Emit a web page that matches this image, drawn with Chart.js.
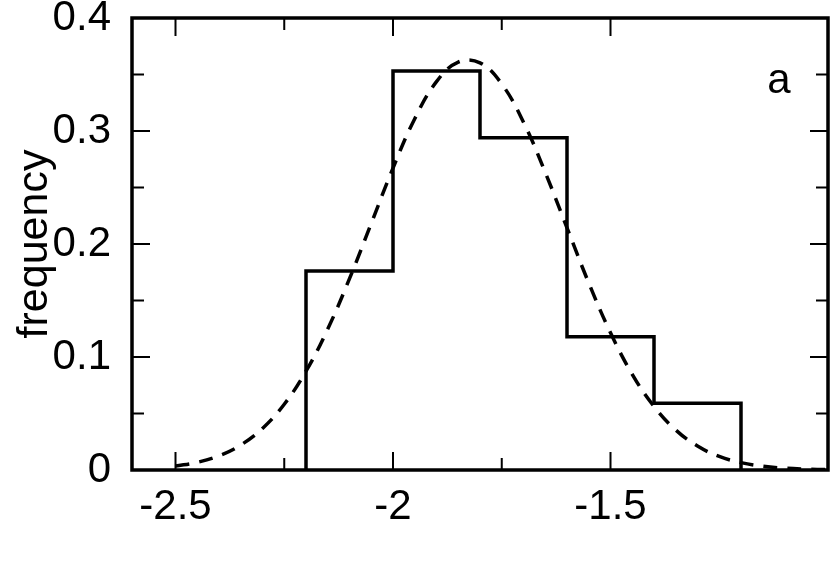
<!DOCTYPE html>
<html>
<head>
<meta charset="utf-8">
<script src="https://cdn.jsdelivr.net/npm/chart.js@4.4.1/dist/chart.umd.min.js"></script>
<style>
    body { margin: 0; background: #fff; }
    #wrap { width: 830px; height: 586px; }
</style>
</head>
<body>
<div id="wrap"><canvas id="hist-chart"></canvas></div>
<script>
// Histogram bins (left edges + last right edge) and frequencies
const binEdges = [-2.2, -2.0, -1.8, -1.6, -1.4, -1.2];
const binFreq = [0.176, 0.353, 0.294, 0.118, 0.059];

// Dashed fit curve
const curveX = [-2.5, -2.45, -2.4, -2.35, -2.3, -2.25, -2.2, -2.15, -2.1, -2.05,
    -2.0, -1.95, -1.9, -1.85, -1.8, -1.75, -1.7, -1.65, -1.6, -1.55,
    -1.5, -1.45, -1.4, -1.35, -1.3, -1.25, -1.2, -1.15, -1.1, -1.05, -1.0];
const curveY = [0.0035, 0.0068, 0.0126, 0.0221, 0.0368, 0.0582, 0.0874, 0.1248, 0.1693, 0.2182,
    0.2672, 0.3109, 0.3437, 0.3610, 0.3603, 0.3416, 0.3078, 0.2634, 0.2143, 0.1655,
    0.1215, 0.0847, 0.0562, 0.0354, 0.0212, 0.0120, 0.0065, 0.0033, 0.0016, 0.0008, 0.0003];

// Axis ticks
const xTicks = [-2.5, -2.25, -2.0, -1.75, -1.5];
const xTickLabels = ['-2.5', '', '-2', '', '-1.5'];
const yTicks = [0, 0.05, 0.1, 0.15, 0.2, 0.25, 0.3, 0.35, 0.4];
const yTickLabels = ['0', '', '0.1', '', '0.2', '', '0.3', '', '0.4'];

const FONT = '"Liberation Sans", Arial, Helvetica, sans-serif';

function histPoints() {
    const pts = [{ x: binEdges[0], y: 0 }];
    binFreq.forEach((f, i) => pts.push({ x: binEdges[i], y: f }));
    pts.push({ x: binEdges[binEdges.length - 1], y: 0 });
    return pts;
}

// Frame, inward ticks on all four sides, panel letter
const framePlugin = {
    id: 'frame',
    afterDraw(chart) {
        const ctx = chart.ctx;
        const area = chart.chartArea;
        const xs = chart.scales.x;
        const ys = chart.scales.y;
        ctx.save();
        ctx.strokeStyle = '#000';
        ctx.lineWidth = 2;
        ctx.beginPath();
        xTicks.forEach((v, i) => {
            const px = xs.getPixelForValue(v);
            const len = xTickLabels[i] ? 18 : 12;
            ctx.moveTo(px, area.bottom); ctx.lineTo(px, area.bottom - len);
            ctx.moveTo(px, area.top); ctx.lineTo(px, area.top + len);
        });
        yTicks.forEach((v, i) => {
            const py = ys.getPixelForValue(v);
            const len = yTickLabels[i] ? 18 : 12;
            ctx.moveTo(area.left, py); ctx.lineTo(area.left + len, py);
            ctx.moveTo(area.right, py); ctx.lineTo(area.right - len, py);
        });
        ctx.stroke();

        ctx.lineWidth = 3.5;
        ctx.strokeRect(area.left, area.top, area.right - area.left, area.bottom - area.top);

        ctx.fillStyle = '#000';
        ctx.font = '42px ' + FONT;
        ctx.textAlign = 'center';
        ctx.textBaseline = 'alphabetic';
        ctx.fillText('a', area.right - 49, area.top + 75);
        ctx.restore();
    }
};

function setupChart() {
    const canvas = document.getElementById('hist-chart');
    const ctx = canvas.getContext('2d');

    new Chart(ctx, {
        type: 'line',
        data: {
            datasets: [{
                data: curveX.map((x, i) => ({ x: x, y: curveY[i] })),
                borderColor: '#000',
                borderWidth: 3.5,
                borderDash: [14, 10],
                borderCapStyle: 'butt',
                pointRadius: 0,
                tension: 0.4,
                fill: false
            }, {
                data: histPoints(),
                borderColor: '#000',
                borderWidth: 3.5,
                borderJoinStyle: 'miter',
                stepped: true,
                pointRadius: 0,
                fill: false
            }]
        },
        options: {
            responsive: true,
            maintainAspectRatio: false,
            animation: false,
            layout: { padding: { top: 18, right: 2, left: 0, bottom: 0 } },
            plugins: {
                legend: { display: false },
                tooltip: { enabled: false }
            },
            scales: {
                x: {
                    type: 'linear',
                    min: -2.6,
                    max: -1.0,
                    grid: { display: false },
                    border: { display: false },
                    afterBuildTicks: scale => { scale.ticks = xTicks.map(v => ({ value: v })); },
                    afterFit: scale => {
                        scale.height = 116;
                        scale.paddingLeft = 0;
                        scale.paddingRight = 0;
                    },
                    ticks: {
                        autoSkip: false,
                        maxRotation: 0,
                        padding: 4,
                        color: '#000',
                        font: { family: FONT, size: 42 },
                        callback: (value, index) => xTickLabels[index]
                    }
                },
                y: {
                    min: 0,
                    max: 0.4,
                    grid: { display: false },
                    border: { display: false },
                    afterBuildTicks: scale => { scale.ticks = yTicks.map(v => ({ value: v })); },
                    afterFit: scale => {
                        scale.width = 132;
                        scale.paddingTop = 0;
                        scale.paddingBottom = 0;
                    },
                    ticks: {
                        autoSkip: false,
                        padding: 13,
                        color: '#000',
                        font: { family: FONT, size: 42 },
                        callback: (value, index) => yTickLabels[index]
                    },
                    title: {
                        display: true,
                        text: 'frequency',
                        color: '#000',
                        padding: { top: 14, bottom: 0 },
                        font: { family: FONT, size: 43, lineHeight: 1 }
                    }
                }
            }
        },
        plugins: [framePlugin]
    });
}

document.addEventListener('DOMContentLoaded', setupChart);
</script>
</body>
</html>
